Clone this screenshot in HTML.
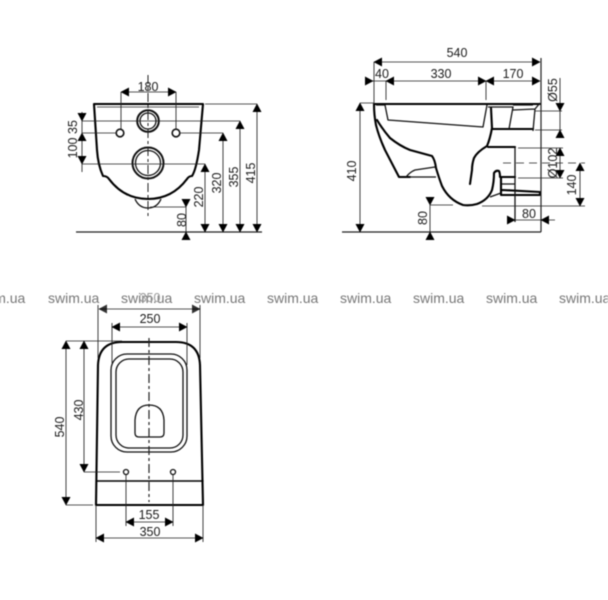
<!DOCTYPE html>
<html><head><meta charset="utf-8"><style>
html,body{margin:0;padding:0;background:#fff;width:608px;height:600px;overflow:hidden}
svg{display:block;filter:blur(0.4px)}
text{font-family:"Liberation Sans",sans-serif;font-size:12.5px;fill:#1a1a1a;text-anchor:middle}
.w{font-size:14px;fill:#777;text-anchor:start}
.t{fill:none;stroke:#222;stroke-width:.85}
.k{fill:none;stroke:#000;stroke-width:2.1;stroke-linejoin:round;stroke-linecap:round}
.m{fill:none;stroke:#111;stroke-width:1.3;stroke-linejoin:round}
.d{fill:none;stroke:#222;stroke-width:1;stroke-dasharray:9 3 3 3}
.a{fill:#000}
</style></head><body>
<svg width="608" height="600" viewBox="0 0 608 600" xmlns="http://www.w3.org/2000/svg">
<defs>
<path id="u" d="M0,-.5L-4.5,8L4.5,8Z"/>
<path id="n" d="M0,.5L-4.5,-8L4.5,-8Z"/>
<path id="l" d="M-.5,0L8,-4.5L8,4.5Z"/>
<path id="r" d="M.5,0L-8,-4.5L-8,4.5Z"/>
</defs>

<!-- LEFT VIEW -->
<path class="k" d="M94,104H203L199,150Q196,170 192,176Q189,176 187,179Q172,199 148,199Q124,199 109,179Q107,176 103,176Q98,165 97,150Z"/>
<path class="t" d="M97,107H199"/>
<path class="m" d="M135,199Q139,208 148,208Q157,208 161,199"/>
<circle class="m" cx="148" cy="121" r="10.8" style="stroke-width:2"/><circle class="m" cx="148" cy="121" r="8"/>
<circle class="m" cx="148" cy="163" r="15.5" style="stroke-width:2"/><circle class="m" cx="148" cy="163" r="12.5"/>
<circle class="m" cx="120" cy="133" r="3.8" style="stroke-width:1.6"/><circle class="m" cx="176" cy="133" r="3.8" style="stroke-width:1.6"/>
<path class="d" d="M148,75V217"/>
<path class="t" d="M121,92V129M176,92V129M121,92H176M82,121H240M82,133H116M180,133H223M82,164H205M205,104H257M150,207H186"/>
<path class="t" d="M257,104V232M240,121V232M223,133V232M205,164V232M186,207V240M82,112V172"/>
<path d="M76,232H262" fill="none" stroke="#222" stroke-width="1.3"/>
<use class="a" href="#l" x="121" y="92"/><use class="a" href="#r" x="176" y="92"/>
<use class="a" href="#u" x="257" y="104"/><use class="a" href="#n" x="257" y="232"/>
<use class="a" href="#u" x="240" y="121"/><use class="a" href="#n" x="240" y="232"/>
<use class="a" href="#u" x="223" y="133"/><use class="a" href="#n" x="223" y="232"/>
<use class="a" href="#u" x="205" y="164"/><use class="a" href="#n" x="205" y="232"/>
<use class="a" href="#n" x="186" y="207"/><use class="a" href="#u" x="186" y="232"/>
<use class="a" href="#n" x="82" y="121"/><use class="a" href="#u" x="82" y="133"/><use class="a" href="#n" x="82" y="164"/>
<text x="148" y="91">180</text>
<text transform="translate(255,173) rotate(-90)">415</text>
<text transform="translate(238,177) rotate(-90)">355</text>
<text transform="translate(221,183) rotate(-90)">320</text>
<text transform="translate(203,197) rotate(-90)">220</text>
<text transform="translate(186,220) rotate(-90)">80</text>
<text transform="translate(77,148) rotate(-90)">100</text>
<text transform="translate(77,127) rotate(-90)">35</text>

<!-- RIGHT VIEW -->
<path class="k" d="M374,104H540M376,125Q379,137 385,150L399,177H410"/>
<path class="k" d="M374,104Q374,115 376,125"/>
<path class="k" d="M377,120Q383,130 390,138Q400,146 410,150L432,156Q435,160 436,168Q439,178 442,186Q449,200 463,205Q470,206 477,204Q488,200 492,190Q494,182 494,173Q496,170 499,171Q500,173 500,177H515"/>
<path class="m" d="M406,177Q410,172 415,170L435,167M410,177H436M376,105H385L388,120L483,127L487,105"/>
<path class="k" d="M491,108L492,128Q490,139 487,146Q477,152 474,158Q472,164 472,170L470,184"/>
<path class="k" d="M488,147H515M492,129H533M501,178V195H540V192L502,190"/>
<path class="m" d="M515,147V222M490,197L501,193M488,107H513L509,129M513,110L535,109L540,103M513,105H533M535,109L533,131M502,184H515"/>
<path class="t" d="M374,62V104M386,81V100M486,81V100"/>
<path d="M541,58V232" fill="none" stroke="#222" stroke-width="1.2"/>
<path d="M342,232H541" fill="none" stroke="#222" stroke-width="1.2"/>
<path class="t" d="M360,103H374M374,62H540M365,81H540M360,103V232M430,205V240M430,205H453M515,220H555M535,111H562M535,130H562M518,148H563M518,178H563M482,206H585M560,78V137M560,148V178M580,163V206"/>
<path class="t" stroke-dasharray="8 5" d="M503,163H585"/>
<use class="a" href="#l" x="374" y="62"/><use class="a" href="#r" x="540" y="62"/>
<use class="a" href="#r" x="373" y="81"/><use class="a" href="#l" x="386" y="81"/>
<use class="a" href="#r" x="486" y="81"/><use class="a" href="#l" x="486" y="81"/><use class="a" href="#r" x="540" y="81"/>
<use class="a" href="#u" x="360" y="103"/><use class="a" href="#n" x="360" y="232"/>
<use class="a" href="#n" x="430" y="205"/><use class="a" href="#u" x="430" y="232"/>
<use class="a" href="#r" x="515" y="220"/><use class="a" href="#l" x="541" y="220"/>
<use class="a" href="#n" x="560" y="111"/><use class="a" href="#u" x="560" y="130"/>
<use class="a" href="#u" x="560" y="148"/><use class="a" href="#n" x="560" y="178"/>
<use class="a" href="#u" x="580" y="163"/><use class="a" href="#n" x="580" y="206"/>
<text x="457" y="57">540</text><text x="382" y="78">40</text><text x="441" y="78">330</text><text x="513" y="78">170</text><text x="529" y="218">80</text>
<text transform="translate(356,171) rotate(-90)">410</text>
<text transform="translate(427,218) rotate(-90)">80</text>
<text transform="translate(557,90) rotate(-90)">Ø55</text>
<text transform="translate(557,163) rotate(-90)">Ø102</text>
<text transform="translate(576,185) rotate(-90)">140</text>

<!-- WATERMARK -->
<text class="w" x="-26" y="303">swim.ua</text><text class="w" x="48" y="303">swim.ua</text><text class="w" x="121" y="303">swim.ua</text><text class="w" x="194" y="303">swim.ua</text><text class="w" x="267" y="303">swim.ua</text><text class="w" x="340" y="303">swim.ua</text><text class="w" x="413" y="303">swim.ua</text><text class="w" x="486" y="303">swim.ua</text><text class="w" x="559" y="303">swim.ua</text>

<!-- FRONT VIEW -->
<path class="k" d="M96,505L98,365Q99,342 122,342H176Q199,342 200,365L203,505Z"/>
<path class="k" style="stroke-width:1.4" d="M97,481H203"/>
<rect class="m" x="111" y="354" width="76" height="98" rx="16"/>
<rect class="m" x="116" y="359" width="67" height="89" rx="13"/>
<path class="m" d="M135,433V420Q136,405 149,405Q163,405 164,420V433Q164,437 160,437H139Q135,437 135,433Z"/>
<circle class="m" cx="126" cy="472" r="2.5"/><circle class="m" cx="173" cy="472" r="2.5"/>
<path class="d" style="stroke-width:1.2" d="M149,338V502"/>
<path class="t" d="M98,305V358M200,305V358M99,309H200M112,323V363M187,323V365M112,327H187M66,341H122M66,505H93M66,341V505M84,341V472M84,472H120M126,475V526M173,475V526M126,522H173M96,505V542M203,505V542M96,538H203"/>
<use class="a" href="#l" x="99" y="309" fill-opacity=".8"/><use class="a" href="#r" x="200" y="309" fill-opacity=".8"/>
<use class="a" href="#l" x="112" y="327"/><use class="a" href="#r" x="187" y="327"/>
<use class="a" href="#l" x="126" y="522"/><use class="a" href="#r" x="173" y="522"/>
<use class="a" href="#l" x="96" y="538"/><use class="a" href="#r" x="203" y="538"/>
<use class="a" href="#u" x="66" y="341"/><use class="a" href="#n" x="66" y="505"/>
<use class="a" href="#u" x="84" y="341"/><use class="a" href="#n" x="84" y="472"/>
<text x="150" y="302" style="fill:#999">350</text>
<text x="150" y="323">250</text><text x="149" y="519">155</text><text x="150" y="536">350</text>
<text transform="translate(64,427) rotate(-90)">540</text>
<text transform="translate(83,410) rotate(-90)">430</text>
</svg>
</body></html>
